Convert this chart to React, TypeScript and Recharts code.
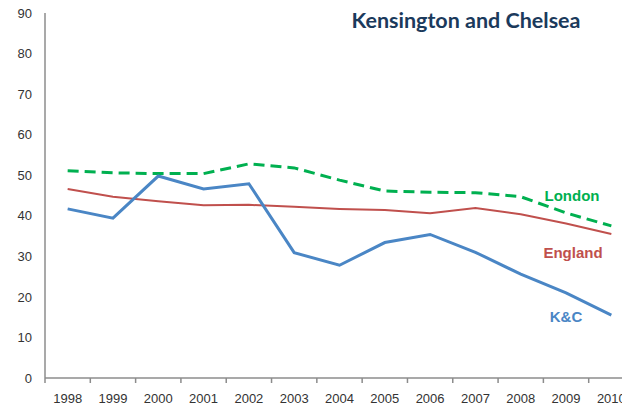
import {
  ComposedChart,
  Line,
  XAxis,
  YAxis,
  LabelList,
} from "recharts";

const years = [
  "1998", "1999", "2000", "2001", "2002", "2003", "2004",
  "2005", "2006", "2007", "2008", "2009", "2010",
];
const kc = [41.7, 39.4, 49.8, 46.6, 47.9, 30.9, 27.8, 33.4, 35.4, 31.0, 25.6, 21.0, 15.5];
const england = [46.6, 44.7, 43.6, 42.6, 42.7, 42.2, 41.7, 41.4, 40.6, 41.9, 40.4, 38.1, 35.5];
const london = [51.1, 50.6, 50.4, 50.4, 52.8, 51.8, 48.8, 46.1, 45.8, 45.7, 44.7, 40.7, 37.5];
const yTicks = [0, 10, 20, 30, 40, 50, 60, 70, 80, 90];

const LABEL_INDEX = 11;
const AXIS_GREY = "#8c8c8c";

const data = years.map((year, i) => ({
  year,
  kc: kc[i],
  england: england[i],
  london: london[i],
}));

// draws the series name next to the 2009 point only
function seriesLabel(text: string, color: string, dx: number, dy: number) {
  return (props: any) => {
    if (props.index !== LABEL_INDEX) return null;
    return (
      <text
        x={props.x + dx}
        y={props.y + dy}
        fill={color}
        fontSize={15}
        fontWeight="bold"
        fontFamily="'Liberation Sans', Arial, sans-serif"
        textAnchor="middle"
        dominantBaseline="central"
      >
        {text}
      </text>
    );
  };
}

// year label centred in its band, tick mark on the band's left edge (excel style)
function YearTick(props: any) {
  const { x, y, payload, index } = props;
  const half = payload.offset || 22.65;
  const last = index === years.length - 1;
  return (
    <g>
      <line x1={x - half} x2={x - half} y1={y} y2={y + 5} stroke={AXIS_GREY} strokeWidth={1.5} />
      {last && (
        <line x1={x + half} x2={x + half} y1={y} y2={y + 5} stroke={AXIS_GREY} strokeWidth={1.5} />
      )}
      <text x={x} y={y + 25} textAnchor="middle" fill="#333" fontSize={13}>
        {payload.value}
      </text>
    </g>
  );
}

export default function App() {
  return (
    <div style={{ position: "fixed", left: 0, top: 0, width: 622, height: 406, background: "#fff" }}>
      <ComposedChart
        width={622}
        height={406}
        data={data}
        margin={{ top: 13, right: -12, bottom: 0, left: 0 }}
        style={{ fontFamily: "'Liberation Sans', Arial, sans-serif" }}
      >
        <XAxis
          dataKey="year"
          scale="band"
          height={28}
          axisLine={{ stroke: AXIS_GREY, strokeWidth: 1.5 }}
          tickLine={false}
          tickSize={0}
          tickMargin={0}
          interval={0}
          tick={<YearTick />}
        />
        <YAxis
          width={45}
          domain={[0, 90]}
          ticks={yTicks}
          axisLine={{ stroke: AXIS_GREY, strokeWidth: 1.5 }}
          tickLine={false}
          tickSize={5}
          tickMargin={8}
          tick={{ fill: "#333", fontSize: 13 }}
        />
        <Line
          dataKey="london"
          stroke="#00B050"
          strokeWidth={3}
          strokeDasharray="11 6"
          dot={false}
          isAnimationActive={false}
        >
          <LabelList dataKey="london" content={seriesLabel("London", "#00B050", 6, -17)} />
        </Line>
        <Line
          dataKey="england"
          stroke="#C0504D"
          strokeWidth={2}
          dot={false}
          isAnimationActive={false}
        >
          <LabelList dataKey="england" content={seriesLabel("England", "#C0504D", 7, 29.5)} />
        </Line>
        <Line
          dataKey="kc"
          stroke="#4A86C5"
          strokeWidth={3}
          dot={false}
          isAnimationActive={false}
        >
          <LabelList dataKey="kc" content={seriesLabel("K&C", "#4A86C5", 0, 24)} />
        </Line>
        <text
          x={466}
          y={28}
          textAnchor="middle"
          fill="#1B3A5C"
          fontSize={21.5}
          fontWeight="bold"
          fontFamily="Lato, 'Open Sans', sans-serif"
        >
          Kensington and Chelsea
        </text>
      </ComposedChart>
    </div>
  );
}
